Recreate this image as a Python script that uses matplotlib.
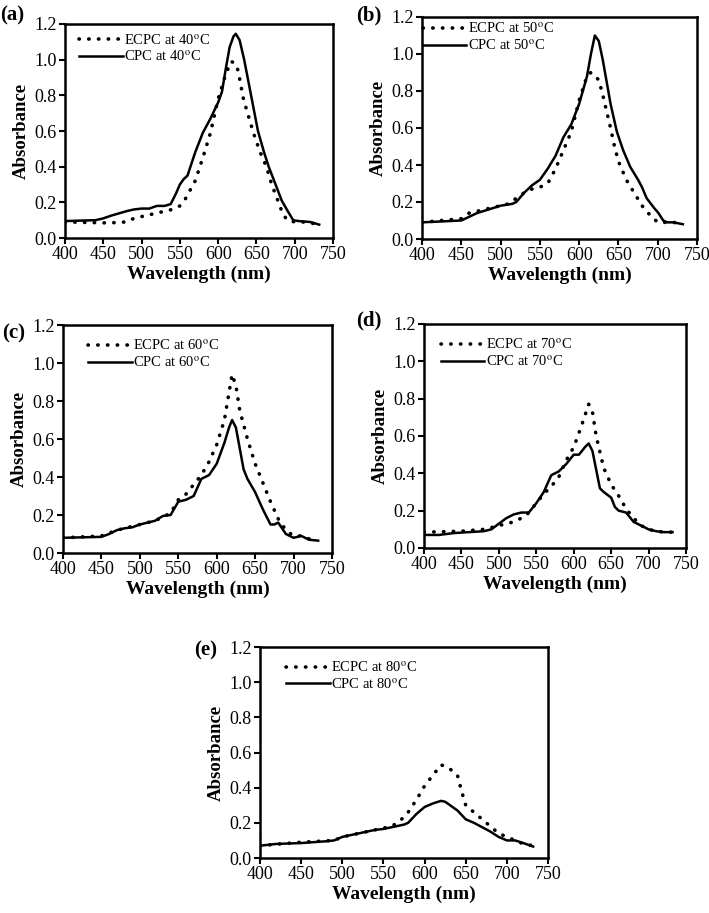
import matplotlib
matplotlib.use("Agg")
import matplotlib.pyplot as plt

plt.rcParams["font.family"] = ["Liberation Serif", "DejaVu Serif"]
plt.rcParams["mathtext.fontset"] = "stix"

# ---- data ----
temps = [40, 50, 60, 70, 80]
panel_labels = ["(a)", "(b)", "(c)", "(d)", "(e)"]

# (a) 40 C
wl_a_cpc = [400, 440, 450, 460, 480, 490, 500, 510, 520, 530, 538, 545, 550, 555, 560, 570, 580, 590,
            600, 605, 610, 615, 620, 623, 628, 634, 643, 652, 660, 666, 675, 683, 691, 698, 705, 720, 732]
ab_a_cpc = [0.095, 0.1, 0.11, 0.125, 0.15, 0.16, 0.165, 0.165, 0.18, 0.18, 0.19, 0.25, 0.3, 0.33, 0.35, 0.48, 0.59, 0.67,
            0.76, 0.82, 0.95, 1.07, 1.13, 1.145, 1.11, 1.0, 0.8, 0.6, 0.48, 0.4, 0.3, 0.21, 0.15, 0.1, 0.095, 0.09, 0.075]
wl_a_ecpc = [400, 450, 460, 480, 490, 500, 520, 540, 550, 556, 570, 580, 590, 600, 610, 617, 622, 626,
             633, 646, 655, 663, 670, 678, 684, 690, 700, 710, 720, 732]
ab_a_ecpc = [0.09, 0.085, 0.085, 0.09, 0.11, 0.12, 0.14, 0.16, 0.18, 0.21, 0.32, 0.45, 0.59, 0.78, 0.92, 0.99, 0.98, 0.94,
             0.78, 0.59, 0.48, 0.4, 0.3, 0.21, 0.14, 0.1, 0.09, 0.09, 0.085, 0.075]

# (b) 50 C
wl_b_cpc = [400, 450, 470, 500, 515, 520, 530, 540, 550, 560, 570, 580, 590, 600, 610, 615, 620, 625,
            630, 635, 640, 648, 656, 665, 675, 680, 686, 695, 701, 707, 712, 720, 732]
ab_b_cpc = [0.09, 0.1, 0.14, 0.18, 0.19, 0.2, 0.25, 0.29, 0.32, 0.38, 0.45, 0.55, 0.62, 0.73, 0.88, 1.0, 1.1, 1.07,
            0.97, 0.85, 0.73, 0.58, 0.48, 0.39, 0.32, 0.28, 0.22, 0.17, 0.14, 0.1, 0.09, 0.09, 0.08]
wl_b_ecpc = [400, 450, 460, 470, 480, 500, 510, 520, 530, 540, 550, 560, 570, 580, 590, 600, 610, 615,
             620, 625, 630, 635, 640, 645, 650, 660, 670, 680, 690, 700, 710, 720, 732]
ab_b_ecpc = [0.09, 0.11, 0.14, 0.15, 0.16, 0.18, 0.19, 0.22, 0.25, 0.27, 0.28, 0.3, 0.38, 0.48, 0.58, 0.75, 0.88, 0.9,
             0.88, 0.86, 0.78, 0.69, 0.6, 0.5, 0.42, 0.32, 0.25, 0.18, 0.13, 0.09, 0.09, 0.09, 0.08]

# (c) 60 C
wl_c_cpc = [400, 450, 460, 470, 480, 490, 500, 510, 520, 530, 540, 550, 560, 570, 580, 590, 600, 610,
            616, 620, 625, 630, 635, 640, 650, 660, 670, 675, 680, 690, 700, 705, 710, 720, 732]
ab_c_cpc = [0.08, 0.085, 0.1, 0.12, 0.13, 0.135, 0.15, 0.16, 0.17, 0.195, 0.2, 0.27, 0.28, 0.3, 0.39, 0.41, 0.47, 0.58,
            0.66, 0.7, 0.66, 0.55, 0.44, 0.39, 0.32, 0.23, 0.15, 0.15, 0.16, 0.1, 0.08, 0.085, 0.09, 0.07, 0.065]
wl_c_ecpc = [400, 450, 470, 480, 500, 510, 520, 530, 540, 550, 560, 570, 580, 590, 600, 610, 615, 620,
             625, 630, 640, 650, 660, 670, 680, 690, 700, 710, 720, 732]
ab_c_ecpc = [0.08, 0.09, 0.12, 0.13, 0.15, 0.16, 0.17, 0.19, 0.21, 0.28, 0.31, 0.36, 0.41, 0.48, 0.57, 0.7, 0.82, 0.94,
             0.88, 0.75, 0.6, 0.47, 0.37, 0.27, 0.18, 0.12, 0.09, 0.09, 0.075, 0.065]

# (d) 70 C
wl_d_cpc = [400, 420, 440, 480, 490, 500, 510, 520, 530, 540, 550, 560, 570, 580, 590, 600, 607, 615,
            620, 625, 630, 635, 640, 650, 655, 660, 670, 680, 690, 700, 710, 720, 732]
ab_d_cpc = [0.07, 0.07, 0.08, 0.09, 0.1, 0.13, 0.16, 0.18, 0.19, 0.19, 0.24, 0.3, 0.39, 0.41, 0.45, 0.5, 0.5, 0.54,
            0.56, 0.52, 0.42, 0.32, 0.3, 0.27, 0.22, 0.2, 0.19, 0.14, 0.12, 0.1, 0.09, 0.085, 0.085]
wl_d_ecpc = [400, 450, 480, 490, 500, 520, 535, 540, 550, 560, 570, 580, 590, 600, 610, 620, 625, 630,
             640, 650, 660, 670, 680, 690, 700, 710, 720, 732]
ab_d_ecpc = [0.085, 0.09, 0.1, 0.11, 0.12, 0.14, 0.17, 0.19, 0.24, 0.29, 0.33, 0.38, 0.47, 0.54, 0.65, 0.77, 0.73, 0.6,
             0.43, 0.34, 0.28, 0.21, 0.16, 0.12, 0.1, 0.09, 0.085, 0.085]

# (e) 80 C
wl_e_cpc = [400, 420, 450, 480, 490, 500, 520, 540, 550, 560, 575, 580, 590, 600, 610, 620, 625, 640,
            650, 660, 680, 690, 700, 710, 720, 732]
ab_e_cpc = [0.07, 0.08, 0.085, 0.095, 0.1, 0.12, 0.14, 0.16, 0.165, 0.175, 0.19, 0.2, 0.25, 0.29, 0.31, 0.325, 0.32, 0.27,
            0.22, 0.2, 0.15, 0.12, 0.1, 0.1, 0.085, 0.065]
wl_e_ecpc = [400, 450, 490, 500, 520, 540, 550, 560, 570, 580, 590, 600, 610, 620, 630, 640, 645, 650,
             660, 670, 680, 690, 700, 710, 720, 732]
ab_e_ecpc = [0.07, 0.09, 0.1, 0.12, 0.14, 0.16, 0.17, 0.18, 0.21, 0.26, 0.33, 0.41, 0.47, 0.53, 0.51, 0.47, 0.38, 0.3,
             0.26, 0.22, 0.18, 0.14, 0.12, 0.1, 0.08, 0.07]

cpc = [(wl_a_cpc, ab_a_cpc), (wl_b_cpc, ab_b_cpc), (wl_c_cpc, ab_c_cpc), (wl_d_cpc, ab_d_cpc), (wl_e_cpc, ab_e_cpc)]
ecpc = [(wl_a_ecpc, ab_a_ecpc), (wl_b_ecpc, ab_b_ecpc), (wl_c_ecpc, ab_c_ecpc), (wl_d_ecpc, ab_d_ecpc), (wl_e_ecpc, ab_e_ecpc)]

W, H = 709, 913
fig = plt.figure(figsize=(W / 100, H / 100), dpi=100)

# axes boxes in pixels: left, top, right, bottom
boxes = [(65, 24, 333, 238), (422, 17, 697, 239), (63, 325, 332, 553),
         (424, 324, 686, 548), (260, 647, 548, 858)]
label_pos = [(0, 15), (356, 15), (2, 333), (356, 320), (194, 650)]
legend_anchor = [(0.02, 1.0), (-0.03, 1.02), (0.06, 0.98), (0.03, 0.98), (0.06, 0.98)]

for i, (l, t, r, b) in enumerate(boxes):
    ax = fig.add_axes([l / W, 1 - b / H, (r - l) / W, (b - t) / H])
    ax.plot(ecpc[i][0], ecpc[i][1], color="black", lw=2.6,
            linestyle=(0, (0.1, 2.6)), dash_capstyle="round",
            label="ECPC at %d$^\\mathrm{o}$C" % temps[i])
    ax.plot(cpc[i][0], cpc[i][1], color="black", lw=1.8,
            label="CPC at %d$^\\mathrm{o}$C" % temps[i])
    ax.set_xlim(400, 750)
    ax.set_ylim(0, 1.2)
    ax.set_xticks(range(400, 751, 50))
    ax.set_yticks([0.0, 0.2, 0.4, 0.6, 0.8, 1.0, 1.2])
    ax.set_yticklabels(["0.0", "0.2", "0.4", "0.6", "0.8", "1.0", "1.2"])
    ax.tick_params(direction="out", length=4, width=1.5, labelsize=13, pad=2)
    for s in ax.spines.values():
        s.set_linewidth(1.8)
    ax.set_xlabel("Wavelength (nm)", fontsize=14, fontweight="bold", labelpad=2)
    ax.set_ylabel("Absorbance", fontsize=13.5, fontweight="bold", labelpad=3)
    ax.legend(loc="upper left", bbox_to_anchor=legend_anchor[i], frameon=False,
              fontsize=10.5, handlelength=3.0, handletextpad=0.1, labelspacing=0.15,
              borderaxespad=0.2)
    lx, ly = label_pos[i]
    fig.text(lx / W, 1 - ly / H, panel_labels[i], fontsize=15, fontweight="bold",
             ha="left", va="center")

fig.savefig("out.png", dpi=100)
